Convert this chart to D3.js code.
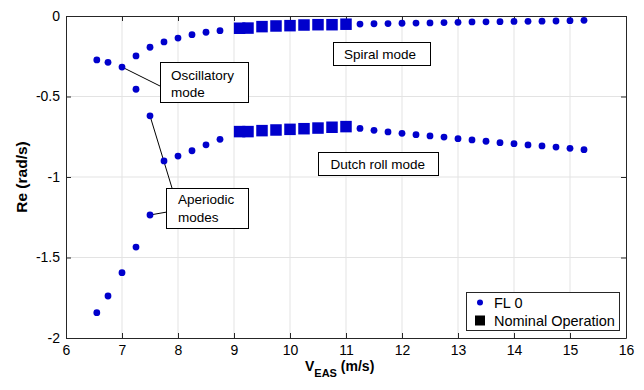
<!DOCTYPE html>
<html>
<head>
<meta charset="utf-8">
<script src="https://cdn.jsdelivr.net/npm/d3@7/dist/d3.min.js"></script>
<style>
  html, body { margin: 0; padding: 0; background: #fff; }
  svg { display: block; font-family: "Liberation Sans", Arial, Helvetica, sans-serif; }
</style>
</head>
<body>
<svg id="chart" width="644" height="390"></svg>
<script>
// Flight level 0: low-speed roots (below the nominal range)
const lowV        = [6.55, 6.75, 7.0, 7.25, 7.5, 7.75, 8.0, 8.25, 8.5, 8.75];
const lowUpper    = [-0.273, -0.288, -0.317, -0.248, -0.194, -0.161, -0.137, -0.116, -0.101, -0.091];
// aperiodic roots before they merge into the Dutch roll pair
const aperV       = [6.55, 6.75, 7.0, 7.25, 7.5, 7.25, 7.5];
const aperRe      = [-1.843, -1.739, -1.594, -1.435, -1.236, -0.455, -0.62];
const lowDutchV   = [7.75, 8.0, 8.25, 8.5, 8.75];
const lowDutch    = [-0.90, -0.87, -0.837, -0.80, -0.766];

// Nominal operation range
const nomV        = [9.1, 9.25, 9.5, 9.75, 10.0, 10.25, 10.5, 10.75, 11.0];
const nomSpiral   = [-0.076, -0.075, -0.066, -0.062, -0.060, -0.056, -0.054, -0.054, -0.051];
const nomDutch    = [-0.718, -0.718, -0.712, -0.708, -0.704, -0.700, -0.696, -0.691, -0.687];

// Flight level 0: high-speed roots
const highV       = [11.25, 11.5, 11.75, 12.0, 12.25, 12.5, 12.75, 13.0, 13.25, 13.5, 13.75, 14.0, 14.25, 14.5, 14.75, 15.0, 15.25];
const highSpiral  = [-0.050, -0.048, -0.047, -0.045, -0.044, -0.043, -0.041, -0.039, -0.037, -0.036, -0.035, -0.034, -0.033, -0.032, -0.031, -0.029, -0.027];
const highDutch   = [-0.698, -0.710, -0.720, -0.729, -0.737, -0.745, -0.752, -0.762, -0.770, -0.778, -0.787, -0.793, -0.801, -0.807, -0.814, -0.822, -0.830];

const xTicks = [6, 7, 8, 9, 10, 11, 12, 13, 14, 15, 16];
const yTicks = [0, -0.5, -1, -1.5, -2];
const yTickLabels = ["0", "-0.5", "-1", "-1.5", "-2"];

const svg = d3.select("#chart");
const L = 66, R = 626, T = 16, B = 338;
const x = d3.scaleLinear().domain([6, 16]).range([L, R]);
const y = d3.scaleLinear().domain([-2, 0]).range([B, T]);
const blue = "#0000cc";

// grid
const grid = svg.append("g").attr("stroke", "#e3e3e3").attr("stroke-width", 1);
xTicks.slice(1, -1).forEach(t => grid.append("line")
  .attr("x1", x(t)).attr("x2", x(t)).attr("y1", T).attr("y2", B));
yTicks.slice(1, -1).forEach(t => grid.append("line")
  .attr("x1", L).attr("x2", R).attr("y1", y(t)).attr("y2", y(t)));

// axes (ticks point inward, boxed frame)
const fs = 14;
svg.append("g").attr("transform", `translate(0,${B})`)
  .call(d3.axisBottom(x).tickValues(xTicks).tickSize(-5).tickPadding(7).tickSizeOuter(0));
svg.append("g").attr("transform", `translate(${L},0)`)
  .call(d3.axisLeft(y).tickValues(yTicks).tickFormat((d, i) => yTickLabels[i]).tickSize(-5).tickPadding(6).tickSizeOuter(0));
svg.append("g").attr("transform", `translate(0,${T})`)
  .call(d3.axisTop(x).tickValues(xTicks).tickSize(-5).tickFormat("").tickSizeOuter(0));
svg.append("g").attr("transform", `translate(${R},0)`)
  .call(d3.axisRight(y).tickValues(yTicks).tickSize(-5).tickFormat("").tickSizeOuter(0));
svg.selectAll(".domain, .tick line").attr("stroke", "#262626");
svg.selectAll(".tick text").attr("font-size", fs).attr("fill", "#000")
  .attr("font-family", "'Liberation Sans', Arial, sans-serif");

// axis labels
const xl = svg.append("text").attr("x", 305).attr("y", 371).attr("font-size", 14)
  .attr("font-weight", "bold").attr("fill", "#000");
xl.append("tspan").text("V");
xl.append("tspan").attr("dy", 6).attr("font-size", 11).text("EAS");
xl.append("tspan").attr("dy", -6).text(" (m/s)");
svg.append("text").attr("transform", `translate(27,${(T + B) / 2}) rotate(-90)`)
  .attr("text-anchor", "middle").attr("font-size", 15.5).attr("font-weight", "bold")
  .attr("fill", "#000").text("Re (rad/s)");

// annotations: leader lines then boxes
const ann = svg.append("g");
const lines = [
  [7.0, -0.317, 160, 86],
  [7.5, -0.62, 172, 188],
  [7.5, -1.236, 167, 212]
];
lines.forEach(([vx, vy, px, py]) => ann.append("line")
  .attr("x1", x(vx)).attr("y1", y(vy)).attr("x2", px).attr("y2", py)
  .attr("stroke", "#000").attr("stroke-width", 1));

function box(x0, y0, w, h, textLines, tx, ty0, dy) {
  ann.append("rect").attr("x", x0 + 0.5).attr("y", y0 + 0.5).attr("width", w).attr("height", h)
    .attr("fill", "#fff").attr("stroke", "#000").attr("stroke-width", 1);
  textLines.forEach((s, i) => ann.append("text").attr("x", tx).attr("y", ty0 + i * dy)
    .attr("font-size", 13.5).attr("fill", "#000").text(s));
}
box(160, 62, 88, 40, ["Oscillatory", "mode"], 171, 80, 17);
box(166, 188, 82, 40, ["Aperiodic", "modes"], 178, 204, 17.5);
box(333, 42, 97, 23, ["Spiral mode"], 344, 58.5, 0);
box(318, 152, 120, 23, ["Dutch roll mode"], 330.5, 168.5, 0);

// markers
const dots = svg.append("g").attr("fill", blue);
const addDots = (vs, rs) => vs.forEach((v, i) => dots.append("circle")
  .attr("cx", x(v)).attr("cy", y(rs[i])).attr("r", 3.4));
addDots(lowV, lowUpper);
addDots(aperV, aperRe);
addDots(lowDutchV, lowDutch);
addDots(highV, highSpiral);
addDots(highV, highDutch);

const sq = 11.5;
const squares = svg.append("g").attr("fill", blue);
[nomSpiral, nomDutch].forEach(arr => nomV.forEach((v, i) => squares.append("rect")
  .attr("x", x(v) - sq / 2).attr("y", y(arr[i]) - sq / 2).attr("width", sq).attr("height", sq)));

// legend
const lg = svg.append("g");
lg.append("rect").attr("x", 466.5).attr("y", 292.5).attr("width", 153).attr("height", 38)
  .attr("fill", "#fff").attr("stroke", "#262626");
lg.append("circle").attr("cx", 480).attr("cy", 302.5).attr("r", 3).attr("fill", blue);
lg.append("rect").attr("x", 475).attr("y", 315.5).attr("width", 10).attr("height", 10).attr("fill", "#000");
lg.append("text").attr("x", 494).attr("y", 307.5).attr("font-size", 14.5).attr("fill", "#000").text("FL 0");
lg.append("text").attr("x", 494).attr("y", 326).attr("font-size", 14.5).attr("fill", "#000").text("Nominal Operation");
</script>
</body>
</html>
